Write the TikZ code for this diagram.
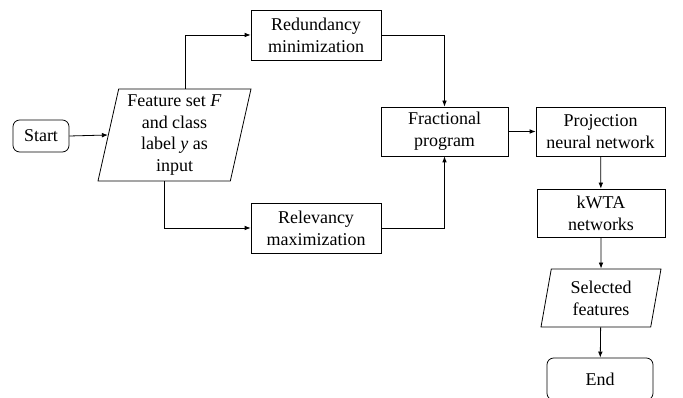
\documentclass[tikz,border=0pt]{standalone}
\usepackage{fontspec}
\setmainfont{Liberation Serif}
\usetikzlibrary{arrows.meta,shapes.geometric}
\tikzset{
	box/.style={draw, line width=0.6pt, align=center, inner sep=2pt},
	endbox/.style={box, rounded corners=5pt},
	iobox/.style={box, trapezium, trapezium stretches body},
	arr/.style={line width=0.6pt, -{Latex[length=4.5pt,width=3.5pt]}}
}

\begin{document}
\begin{tikzpicture}[x=0.75pt, y=-0.75pt, font=\fontsize{13.5}{16.3}\selectfont]
			%%%%% START %%%%%
			\useasboundingbox (0, 0) rectangle (683, 398);
			\clip (0, 0) rectangle (683, 398);
			
			\node[endbox, minimum width=42pt, minimum height=24pt] (start) at (41, 136) {Start};
			\node[iobox, trapezium left angle=76.5, trapezium right angle=103.5, minimum width=114.75pt, minimum height=69pt] (input) at (174.5, 135) {Feature set \textit{F}\\ and class\\ label \textit{y} as\\ input};
			
			\node[box, minimum width=97.5pt, minimum height=37.5pt] (red) at (316, 35) {Redundancy\\ minimization};
			\node[box, minimum width=97.5pt, minimum height=37.5pt] (rel) at (316, 228) {Relevancy\\ maximization};
			
			\node[box, minimum width=95.25pt, minimum height=36.75pt] (frac) at (444.5, 131.5) {Fractional\\ program};
			\node[box, minimum width=96.75pt, minimum height=36.75pt] (proj) at (600.5, 131.5) {Projection\\ neural network};
			\node[box, minimum width=96pt, minimum height=36pt] (kwta) at (601, 213) {kWTA\\ networks};
			\node[iobox, trapezium left angle=75.5, trapezium right angle=104.5, minimum width=90pt, minimum height=43.5pt] (sel) at (601, 298) {Selected\\ features};
			\node[endbox, minimum width=79.5pt, minimum height=31.5pt] (end) at (600, 379) {End};
			
			\draw[arr] (start.east) -- (input.left side);
			\draw[arr] (input.top side) |- (red.west);
			\draw[arr] (input.bottom side) |- (rel.west);
			\draw[arr] (red.east) -| (frac.north);
			\draw[arr] (rel.east) -| (frac.south);
			\draw[arr] (frac) -- (proj);
			\draw[arr] (proj) -- (kwta);
			\draw[arr] (kwta) -- (sel);
			\draw[arr] (sel) -- (end);
			%%%%% END %%%%%
\end{tikzpicture}
\end{document}
